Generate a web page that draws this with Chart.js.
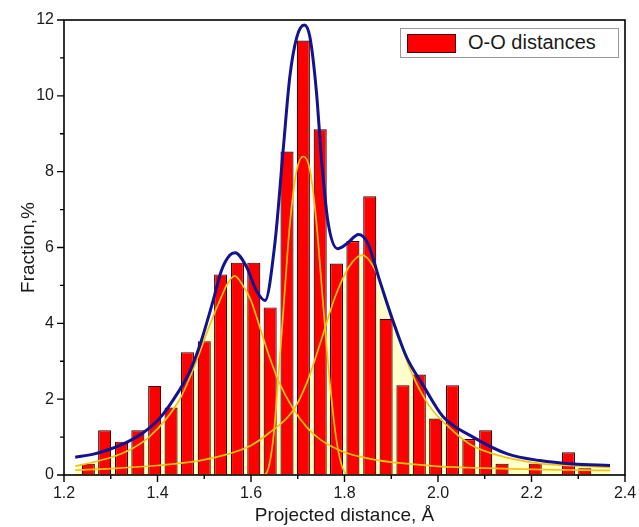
<!DOCTYPE html>
<html lang="en">
<head>
    <meta charset="UTF-8">
    <title>O-O distances</title>
    <script src="https://cdn.jsdelivr.net/npm/chart.js"></script>
    <style>
        html, body { margin: 0; padding: 0; background: #fff; }
        #wrap { position: relative; width: 639px; height: 527px; }
        #legend {
            position: absolute; left: 400px; top: 28px; width: 217px; height: 28px;
            border: 1px solid #9a9a9a; background: #fff;
            font-family: "Liberation Sans", Arial, sans-serif; font-size: 20px; color: #1a1a1a;
        }
        #legend .sw {
            position: absolute; left: 6px; top: 5px; width: 47px; height: 17px;
            background: #ff0000; border: 1px solid #500000;
        }
        #legend .tx { position: absolute; left: 67px; top: 2px; white-space: nowrap; }
    </style>
</head>
<body>
<div id="wrap">
    <canvas id="histo" width="639" height="527"></canvas>
    <div id="legend"><span class="sw"></span><span class="tx">O-O distances</span></div>
</div>

<script>
    // histogram bins (centres, Å) and fractions (%)
    const binCenters = [1.252, 1.287, 1.323, 1.358, 1.394, 1.429, 1.464, 1.500, 1.535, 1.571, 1.606,
        1.641, 1.677, 1.712, 1.748, 1.783, 1.818, 1.854, 1.889, 1.925, 1.960, 1.995, 2.031, 2.066,
        2.102, 2.137, 2.172, 2.208, 2.243, 2.279, 2.314];
    const fractions = [0.30, 1.18, 0.88, 1.18, 2.35, 1.78, 3.24, 3.53, 5.29, 5.60, 5.60,
        4.42, 8.53, 11.46, 9.12, 5.58, 6.17, 7.35, 4.12, 2.37, 2.65, 1.49, 2.37, 0.95,
        1.18, 0.30, 0, 0.30, 0, 0.60, 0.18];

    // cumulative fit (blue)
    const totalX = [1.224, 1.263, 1.298, 1.334, 1.370, 1.405, 1.445, 1.470, 1.490, 1.519, 1.537, 1.555,
        1.566, 1.590, 1.612, 1.630, 1.651, 1.669, 1.683, 1.698, 1.714, 1.726, 1.740, 1.751, 1.765,
        1.785, 1.805, 1.830, 1.850, 1.876, 1.904, 1.933, 1.969, 2.010, 2.075, 2.150, 2.218, 2.289, 2.368];
    const totalY = [0.47, 0.55, 0.68, 0.86, 1.12, 1.50, 2.20, 2.75, 3.40, 4.60, 5.40, 5.80,
        5.86, 5.50, 4.85, 4.60, 6.10, 8.60, 10.50, 11.55, 11.87, 11.55, 10.10, 8.30, 6.65,
        5.97, 6.10, 6.34, 6.10, 5.10, 4.05, 3.10, 2.35, 1.55, 1.00, 0.55, 0.38, 0.29, 0.25];

    // fit components (yellow)
    const peak1X = [1.224, 1.26, 1.30, 1.34, 1.38, 1.42, 1.45, 1.48, 1.51, 1.535, 1.55, 1.565, 1.58,
        1.60, 1.62, 1.64, 1.66, 1.69, 1.72, 1.75, 1.80, 1.85, 1.90, 1.95, 2.00, 2.10, 2.20, 2.30, 2.368];
    const peak1Y = [0.24, 0.33, 0.46, 0.66, 0.98, 1.50, 2.05, 2.90, 3.90, 4.65, 5.05, 5.25, 5.05,
        4.60, 3.85, 3.10, 2.45, 1.75, 1.25, 0.92, 0.60, 0.44, 0.34, 0.28, 0.23, 0.18, 0.15, 0.13, 0.12];

    const peak2X = [1.224, 1.60, 1.625, 1.635, 1.648, 1.658, 1.669, 1.683, 1.698, 1.712, 1.726, 1.740,
        1.755, 1.769, 1.783, 1.797, 1.81, 1.84, 2.368];
    const peak2Y = [0, 0, 0, 0.10, 1.00, 2.50, 4.30, 6.60, 8.05, 8.40, 8.05, 6.65,
        4.40, 2.40, 0.90, 0.15, 0, 0, 0];

    const peak3X = [1.224, 1.30, 1.40, 1.49, 1.55, 1.60, 1.64, 1.69, 1.72, 1.75, 1.78, 1.81, 1.838,
        1.87, 1.89, 1.91, 1.94, 1.98, 2.02, 2.07, 2.15, 2.22, 2.30, 2.368];
    const peak3Y = [0.13, 0.17, 0.25, 0.38, 0.55, 0.78, 1.12, 1.70, 2.45, 3.55, 4.70, 5.50, 5.80,
        5.30, 4.60, 3.90, 2.80, 1.85, 1.30, 0.80, 0.45, 0.30, 0.24, 0.20];

    const textColor = '#1a1a1a';
    const fontFam = '"Liberation Sans", Arial, sans-serif';

    function pts(xs, ys) {
        return xs.map((x, i) => ({ x: x, y: ys[i] }));
    }

    function component(xs, ys, filled) {
        return {
            type: 'line',
            data: pts(xs, ys),
            borderColor: '#f5c20f',
            borderWidth: 1.7,
            pointRadius: 0,
            cubicInterpolationMode: 'monotone',
            fill: filled ? 'origin' : false,
            backgroundColor: 'rgba(255, 255, 190, 0.75)',
            order: 1
        };
    }

    // frame + major/minor tick marks
    const frameTicks = {
        id: 'frameTicks',
        afterDraw(chart) {
            const ctx = chart.ctx;
            const a = chart.chartArea;
            const xs = chart.scales.x, ys = chart.scales.y;
            ctx.save();
            ctx.strokeStyle = '#000';
            ctx.lineWidth = 1.6;
            ctx.strokeRect(a.left, a.top, a.right - a.left, a.bottom - a.top);
            ctx.lineWidth = 1.4;
            ctx.beginPath();
            xs.ticks.forEach(t => {
                const px = xs.getPixelForValue(t.value);
                const major = Math.round(t.value * 10) % 2 === 0;
                ctx.moveTo(px, a.bottom);
                ctx.lineTo(px, a.bottom + (major ? 7 : 4));
            });
            ys.ticks.forEach(t => {
                const py = ys.getPixelForValue(t.value);
                const major = Math.round(t.value) % 2 === 0;
                ctx.moveTo(a.left, py);
                ctx.lineTo(a.left - (major ? 7 : 4), py);
            });
            ctx.stroke();
            ctx.restore();
        }
    };

    new Chart(document.getElementById('histo').getContext('2d'), {
        data: {
            datasets: [
                {
                    type: 'line',
                    data: pts(totalX, totalY),
                    borderColor: '#13138f',
                    borderWidth: 3,
                    pointRadius: 0,
                    cubicInterpolationMode: 'monotone',
                    fill: false,
                    order: 0
                },
                component(peak1X, peak1Y, true),
                component(peak2X, peak2Y, false),
                component(peak3X, peak3Y, true),
                {
                    type: 'bar',
                    label: 'O-O distances',
                    data: pts(binCenters, fractions),
                    backgroundColor: '#ff0000',
                    borderColor: '#3a0000',
                    borderWidth: 1.2,
                    barPercentage: 0.8,
                    categoryPercentage: 1.0,
                    order: 5
                }
            ]
        },
        options: {
            responsive: false,
            animation: false,
            layout: { padding: { left: 0, right: 14, top: 20, bottom: 0 } },
            plugins: {
                legend: { display: false },
                tooltip: { enabled: false },
                filler: { drawTime: 'beforeDatasetsDraw' }
            },
            scales: {
                x: {
                    type: 'linear',
                    min: 1.2,
                    max: 2.4,
                    offset: false,
                    afterFit(scale) { scale.height = 52; },
                    grid: { display: true, drawOnChartArea: false, drawTicks: true, tickLength: 7, tickColor: 'rgba(0,0,0,0)' },
                    border: { display: false },
                    ticks: {
                        stepSize: 0.1,
                        autoSkip: false,
                        maxRotation: 0,
                        padding: 2,
                        color: textColor,
                        font: { family: fontFam, size: 16 },
                        callback: v => Math.round(v * 10) % 2 === 0 ? v.toFixed(1) : ''
                    },
                    title: {
                        display: true,
                        text: 'Projected distance, Å',
                        color: textColor,
                        font: { family: fontFam, size: 19 },
                        padding: { top: 0, bottom: 0 }
                    }
                },
                y: {
                    min: 0,
                    max: 12,
                    afterFit(scale) { scale.width = 64; },
                    grid: { display: true, drawOnChartArea: false, drawTicks: true, tickLength: 7, tickColor: 'rgba(0,0,0,0)' },
                    border: { display: false },
                    ticks: {
                        stepSize: 1,
                        autoSkip: false,
                        padding: 3,
                        color: textColor,
                        font: { family: fontFam, size: 16 },
                        callback: v => Math.round(v) % 2 === 0 ? String(v) : ''
                    },
                    title: {
                        display: true,
                        text: 'Fraction,%',
                        color: textColor,
                        font: { family: fontFam, size: 19 },
                        padding: { top: 17, bottom: 0 }
                    }
                }
            }
        },
        plugins: [frameTicks]
    });
</script>
</body>
</html>
